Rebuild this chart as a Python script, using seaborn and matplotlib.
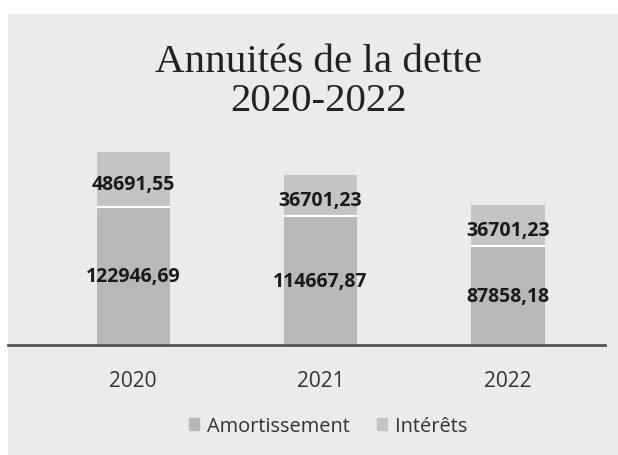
import pandas as pd
import matplotlib.pyplot as plt
import seaborn as sns
from matplotlib.patches import Rectangle, Patch

# data
annees = ["2020", "2021", "2022"]
amortissement = [122946.69, 114667.87, 87858.18]
interets = [48691.55, 36701.23, 36701.23]

df = pd.DataFrame({"annee": annees, "amortissement": amortissement, "interets": interets})
df["total"] = df["amortissement"] + df["interets"]

sns.set_theme(style="white")
plt.rcParams["font.family"] = ["Open Sans", "DejaVu Sans"]

fig = plt.figure(figsize=(6.18, 4.56), dpi=100)
fig.patch.set_facecolor("white")
# grey chart panel (the scan has a white border top and left)
fig.patches.append(Rectangle((8 / 618, 0), 1, 441 / 456, transform=fig.transFigure,
                             facecolor="#ebebeb", edgecolor="none", zorder=-5))

ax = fig.add_axes([8 / 618, 110 / 456, 597 / 618, 206 / 456])
ax.set_facecolor("none")

col_amort = "#b8b8b8"
col_int = "#c4c4c4"
bw = 0.39

# stacked: totals first, then the bottom series over it
sns.barplot(data=df, x="annee", y="total", color=col_int, width=bw,
            saturation=1, ax=ax, edgecolor="none")
sns.barplot(data=df, x="annee", y="amortissement", color=col_amort, width=bw,
            saturation=1, ax=ax, edgecolor="none")
# thin white separator between the two segments
ax.hlines(df["amortissement"], [i - bw / 2 for i in range(len(df))],
          [i + bw / 2 for i in range(len(df))], color="white", linewidth=1.5)

ax.set_xlim(-0.667, 2.517)
ax.set_ylim(0, 183300)

for i, row in df.iterrows():
    ax.text(i, row["amortissement"] / 2, f"{row['amortissement']:.2f}".replace(".", ","),
            ha="center", va="center", fontsize=14, fontweight="bold", color="#1a1a1a")
    ax.text(i, row["amortissement"] + row["interets"] / 2 - 4000,
            f"{row['interets']:.2f}".replace(".", ","),
            ha="center", va="center", fontsize=14, fontweight="bold", color="#1a1a1a")

ax.set_xlabel("")
ax.set_ylabel("")
ax.set_yticks([])
for s in ["top", "left", "right"]:
    ax.spines[s].set_visible(False)
ax.spines["bottom"].set_color("#555555")
ax.spines["bottom"].set_linewidth(2)
ax.tick_params(axis="x", length=0, pad=18, labelsize=15, labelcolor="#333333")

fig.text(0.515, 1 - 82 / 456, "Annuités de la dette\n2020-2022", ha="center", va="center",
         fontsize=29.5, family=["Liberation Serif", "DejaVu Serif"], color="#222222",
         linespacing=1.05)

handles = [Patch(color=col_amort, label="Amortissement"),
           Patch(color=col_int, label="Intérêts")]
fig.legend(handles=handles, loc="center", bbox_to_anchor=(0.531, 1 - 427 / 456), ncol=2,
           frameon=False, fontsize=14.4, handlelength=0.5, handleheight=0.5,
           handletextpad=0.4, columnspacing=1.4, labelcolor="#333333")

fig.savefig("out.png", dpi=100)
